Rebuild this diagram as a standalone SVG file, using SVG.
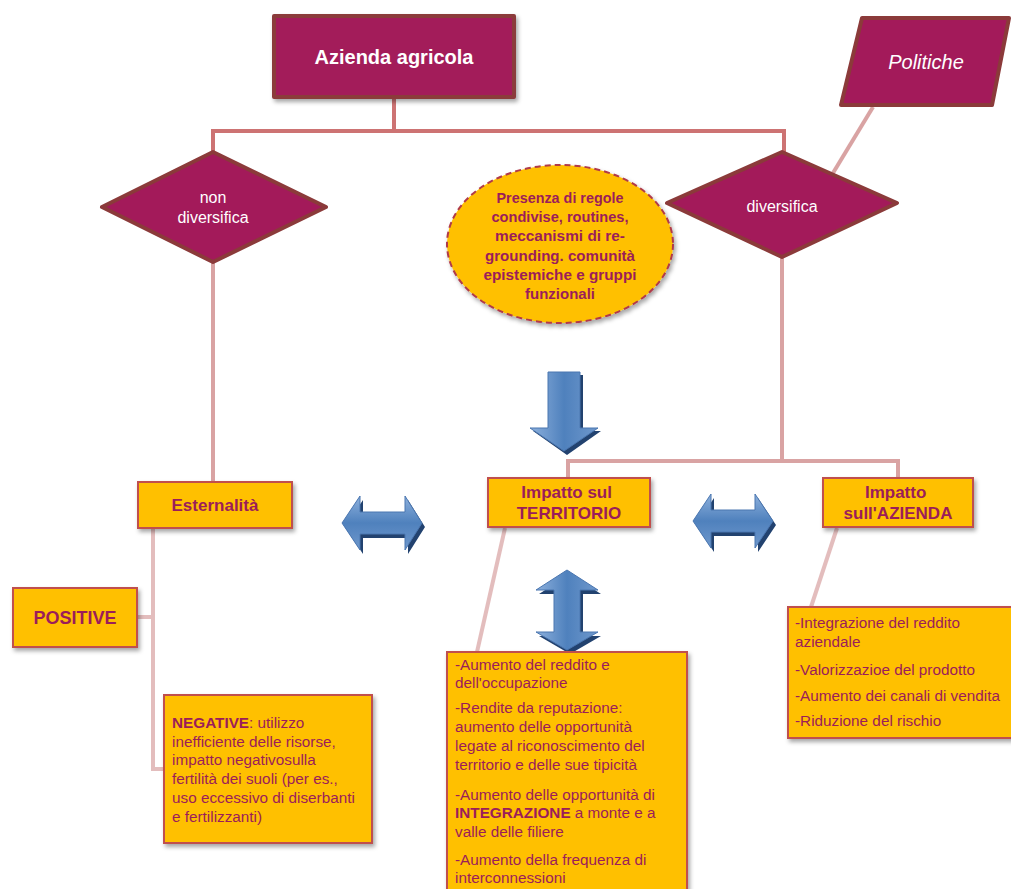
<svg xmlns="http://www.w3.org/2000/svg" width="1011" height="889" viewBox="0 0 1011 889">
<defs>
<style>
.dec{fill:#A31A5A;stroke:#8B3A3A;stroke-width:4;stroke-linejoin:round}
.box{fill:#FFC000;stroke:#C0504D;stroke-width:2;filter:url(#sh)}
.wt{fill:#FFFFFF;font-family:'Liberation Sans',Arial,sans-serif;text-anchor:middle}
.bt{fill:#9B1D5A;font-family:'Liberation Sans',Arial,sans-serif;font-weight:bold;text-anchor:middle}
.et{fill:#9B1D5A;font-family:'Liberation Sans',Arial,sans-serif;font-weight:bold;text-anchor:middle;font-size:15.5px}
.lt{fill:#9B1D5A;font-family:'Liberation Sans',Arial,sans-serif;font-size:15.3px}
.c1{fill:none;stroke:#CD7373;stroke-width:4}
.c2{fill:none;stroke:#D9A3A3;stroke-width:4}
.c3{fill:none;stroke:#E3BDBD;stroke-width:4}
.arr{fill:url(#bg);stroke:#4A76B0;stroke-width:1}
.ash{fill:#22426F}
</style>
<filter id="sh" x="-10%" y="-10%" width="130%" height="130%">
<feDropShadow dx="2" dy="3" stdDeviation="2" flood-color="#000" flood-opacity="0.35"/>
</filter>
<linearGradient id="bg" x1="0" y1="0" x2="0" y2="1">
<stop offset="0" stop-color="#8DB0DC"/>
<stop offset="0.5" stop-color="#4F81BD"/>
<stop offset="1" stop-color="#6F98CC"/>
</linearGradient>
<linearGradient id="bgh" x1="0" y1="0" x2="1" y2="0">
<stop offset="0" stop-color="#8DB0DC"/>
<stop offset="0.5" stop-color="#4F81BD"/>
<stop offset="1" stop-color="#6F98CC"/>
</linearGradient>
</defs>
<rect width="1011" height="889" fill="#FFFFFF"/>
<g id="connectors">
<path class="c1" d="M394,97 V131 M213,152 V131 H784 V152"/>
<path class="c2" d="M873,107 L833,173"/>
<path class="c2" d="M213,262 V483"/>
<path class="c2" d="M782,257 V461 M568,480 V461 H898 V480"/>
<path class="c3" d="M153,528 V769 H166 M137,617 H153"/>
<path class="c3" d="M505,528 L477,652"/>
<path class="c3" d="M837,528 L811,607"/>
</g>
<g id="arrow-down">
<path class="ash" d="M551,375 L583,375 L583,431 L601,431 L567,455 L533,431 L551,431 Z"/>
<path fill="url(#bgh)" stroke="#4A76B0" d="M548,372 L580,372 L580,428 L598,428 L564,451 L530,428 L548,428 Z"/>
</g>
<g id="arrow-left">
<path class="ash" d="M345,527 L363,500 L363,516 L408,516 L408,500 L425,527 L408,554 L408,538 L363,538 L363,554 Z"/>
<path class="arr" d="M342,523 L360,496 L360,512 L405,512 L405,496 L422,523 L405,550 L405,534 L360,534 L360,550 Z"/>
</g>
<g id="arrow-right">
<path class="ash" d="M696,525 L714,498 L714,514 L758,514 L758,498 L776,525 L758,552 L758,536 L714,536 L714,552 Z"/>
<path class="arr" d="M693,521 L711,494 L711,510 L755,510 L755,494 L773,521 L755,548 L755,532 L711,532 L711,548 Z"/>
</g>
<g id="arrow-vertical">
<path class="ash" d="M570,574 L601,594 L583,594 L583,636 L601,636 L570,654 L539,636 L557,636 L557,594 L539,594 Z"/>
<path fill="url(#bgh)" stroke="#4A76B0" d="M567,570 L598,590 L580,590 L580,632 L598,632 L567,650 L536,632 L554,632 L554,590 L536,590 Z"/>
</g>
<g id="azienda-agricola">
<rect class="dec" x="274" y="16" width="240" height="81" filter="url(#sh)"/>
<text class="wt" x="394" y="64" font-size="20" font-weight="bold">Azienda agricola</text>
</g>
<g id="politiche">
<polygon class="dec" points="862,18 1009,18 992,105 841,105"/>
<text class="wt" x="926" y="69" font-size="20" font-style="italic">Politiche</text>
</g>
<g id="non-diversifica">
<polygon class="dec" points="102,207 213,152 326,207 213,262"/>
<text class="wt" x="213" y="203" font-size="16">non</text>
<text class="wt" x="213" y="223" font-size="16">diversifica</text>
</g>
<g id="diversifica">
<polygon class="dec" points="667,203 782,152 897,203 782,257"/>
<text class="wt" x="782" y="212" font-size="16">diversifica</text>
</g>
<g id="presenza">
<ellipse cx="560" cy="244" rx="113" ry="79" fill="#FFC000" stroke="#B03A4A" stroke-width="2" stroke-dasharray="6,4" filter="url(#sh)"/>
<text class="et" x="560" y="203" textLength="127" lengthAdjust="spacingAndGlyphs">Presenza di regole</text>
<text class="et" x="560" y="222" textLength="137" lengthAdjust="spacingAndGlyphs">condivise, routines,</text>
<text class="et" x="560" y="241" textLength="130" lengthAdjust="spacingAndGlyphs">meccanismi di re-</text>
<text class="et" x="560" y="261" textLength="150" lengthAdjust="spacingAndGlyphs">grounding. comunità</text>
<text class="et" x="560" y="280" textLength="153" lengthAdjust="spacingAndGlyphs">epistemiche e gruppi</text>
<text class="et" x="560" y="299" textLength="70" lengthAdjust="spacingAndGlyphs">funzionali</text>
</g>
<g id="esternalita">
<rect class="box" x="138" y="482" width="154" height="46"/>
<text class="bt" x="215" y="511" font-size="17">Esternalità</text>
</g>
<g id="positive">
<rect class="box" x="13" y="588" width="124" height="59"/>
<text class="bt" x="75" y="624" font-size="18">POSITIVE</text>
</g>
<g id="negative">
<rect class="box" x="164" y="695" width="208" height="148"/>
<text class="lt">
<tspan x="172" y="728"><tspan font-weight="bold">NEGATIVE</tspan>: utilizzo</tspan>
<tspan x="172" y="747">inefficiente delle risorse,</tspan>
<tspan x="172" y="765">impatto negativosulla</tspan>
<tspan x="172" y="784">fertilità dei suoli (per es.,</tspan>
<tspan x="172" y="803">uso eccessivo di diserbanti</tspan>
<tspan x="172" y="822">e fertilizzanti)</tspan>
</text>
</g>
<g id="impatto-territorio">
<rect class="box" x="488" y="478" width="162" height="49"/>
<text class="bt" font-size="17">
<tspan x="569" y="498">Impatto sul</tspan>
<tspan x="569" y="519">TERRITORIO</tspan>
</text>
</g>
<g id="territorio-dettagli">
<rect class="box" x="447" y="652" width="240" height="250"/>
<text class="lt">
<tspan x="455" y="670">-Aumento del reddito e</tspan>
<tspan x="455" y="688">dell'occupazione</tspan>
<tspan x="455" y="713">-Rendite da reputazione:</tspan>
<tspan x="455" y="732">aumento delle opportunità</tspan>
<tspan x="455" y="751">legate al riconoscimento del</tspan>
<tspan x="455" y="770">territorio e delle sue tipicità</tspan>
<tspan x="455" y="800">-Aumento delle opportunità di</tspan>
<tspan x="455" y="818"><tspan font-weight="bold">INTEGRAZIONE</tspan> a monte e a</tspan>
<tspan x="455" y="837">valle delle filiere</tspan>
<tspan x="455" y="865">-Aumento della frequenza di</tspan>
<tspan x="455" y="883">interconnessioni</tspan>
</text>
</g>
<g id="impatto-azienda">
<rect class="box" x="823" y="478" width="150" height="49"/>
<text class="bt" font-size="17">
<tspan x="898" y="498">Impatto</tspan>
<tspan x="898" y="519">sull'AZIENDA</tspan>
</text>
</g>
<g id="azienda-dettagli">
<rect class="box" x="788" y="607" width="240" height="131"/>
<text class="lt">
<tspan x="795" y="628">-Integrazione del reddito</tspan>
<tspan x="795" y="647">aziendale</tspan>
<tspan x="795" y="675">-Valorizzazioe del prodotto</tspan>
<tspan x="795" y="701">-Aumento dei canali di vendita</tspan>
<tspan x="795" y="726">-Riduzione del rischio</tspan>
</text>
</g>
</svg>
